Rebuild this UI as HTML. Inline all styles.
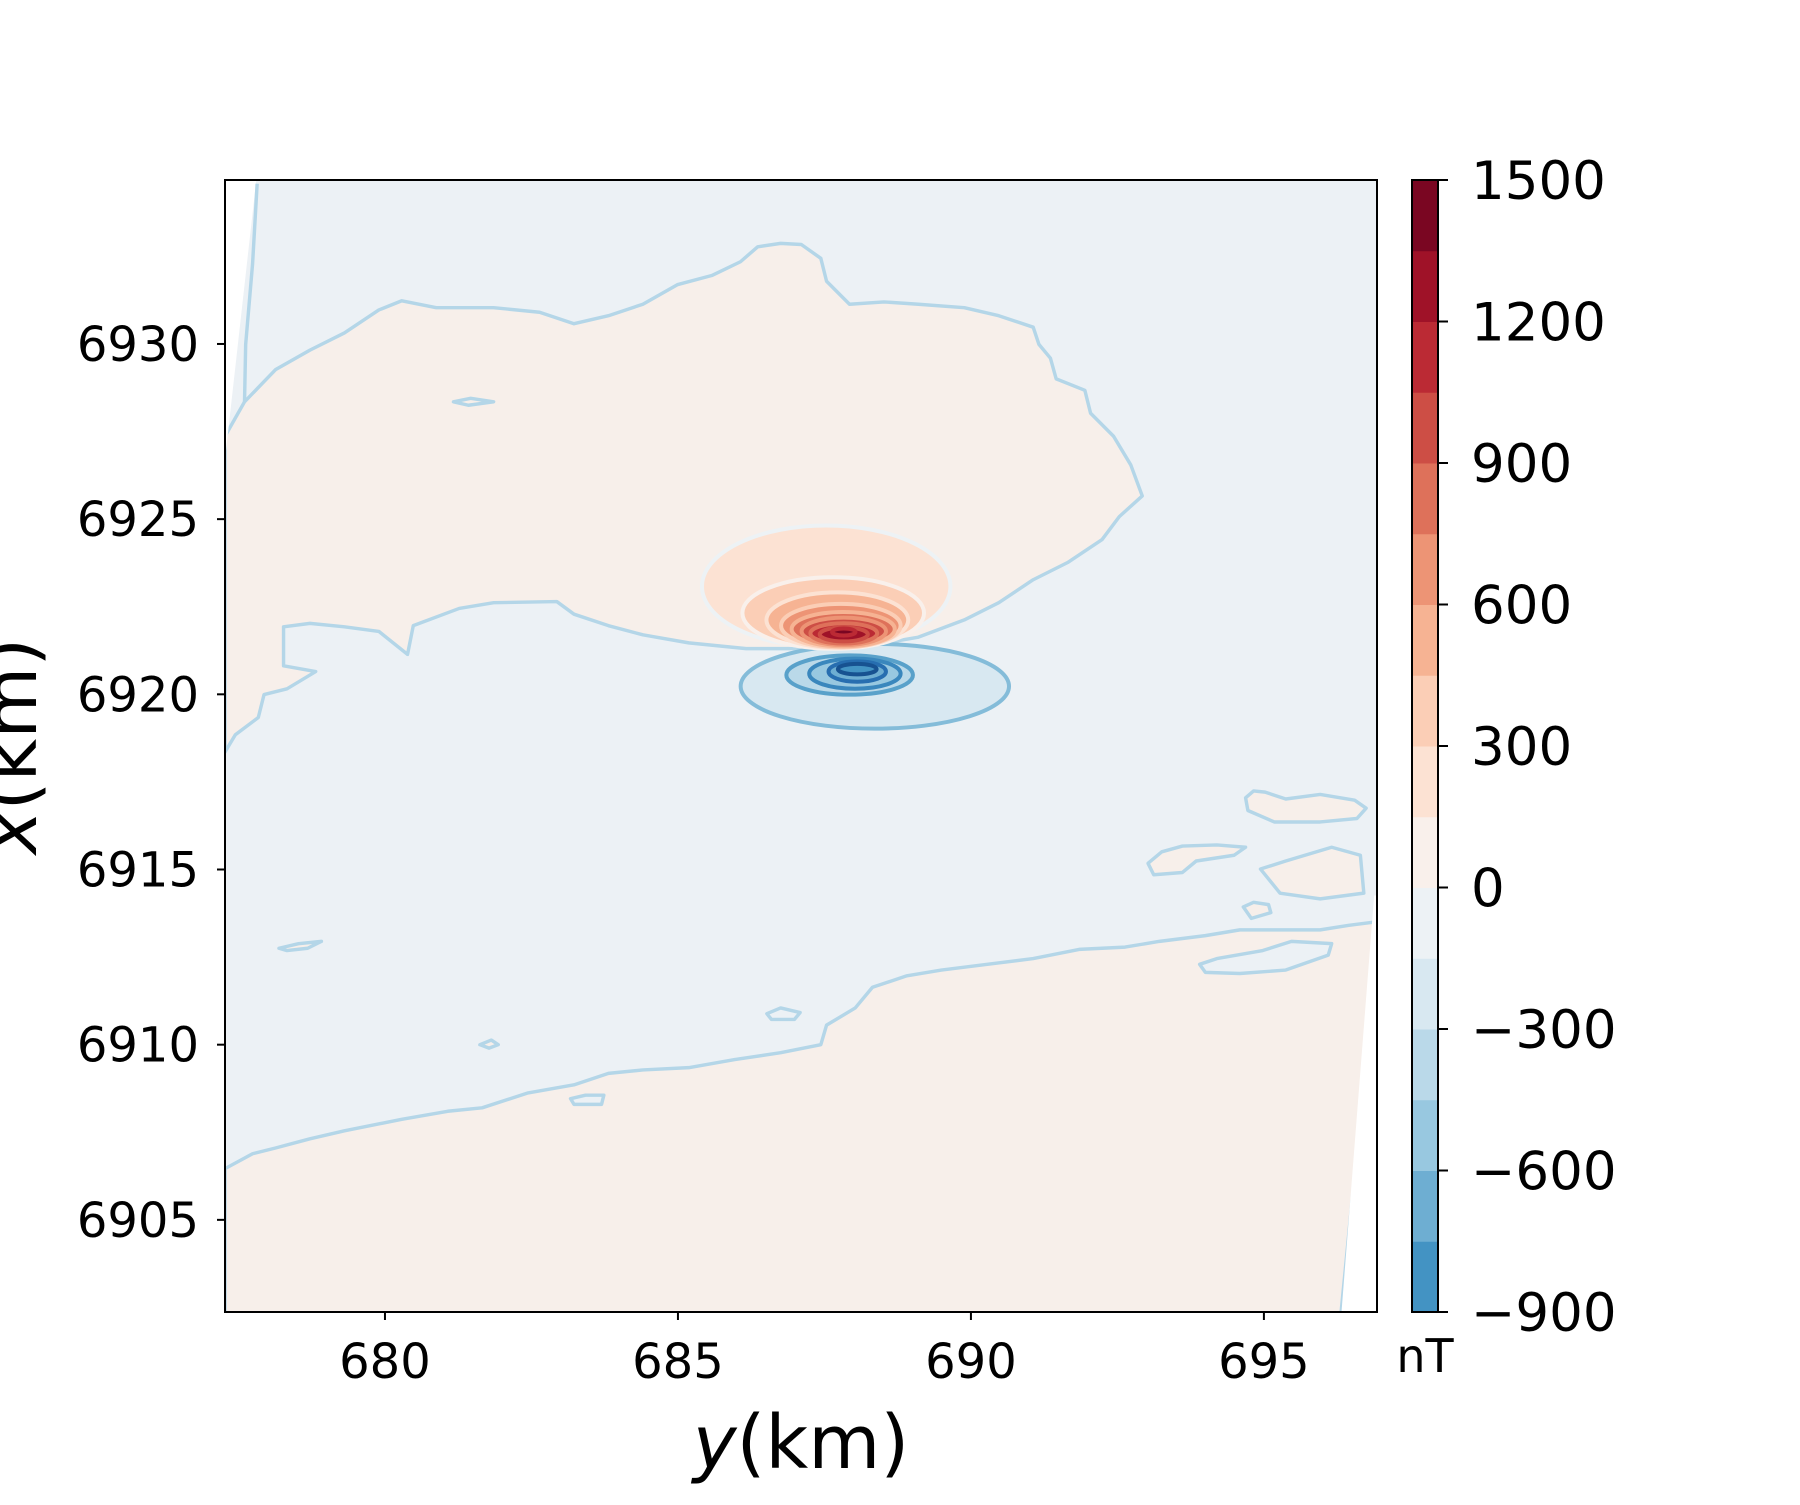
<!DOCTYPE html>
<html><head><meta charset="utf-8"><style>
html,body{margin:0;padding:0;background:#fff;}
svg text{font-family:"DejaVu Sans","Liberation Sans",sans-serif;fill:#000;}
</style></head><body>
<svg id="chart" width="1800" height="1500" viewBox="0 0 1800 1500" xmlns="http://www.w3.org/2000/svg">
<defs><clipPath id="axclip"><rect x="225" y="180" width="1152" height="1132"/></clipPath></defs>
<g id="plot" clip-path="url(#axclip)">
  <rect x="225" y="180" width="1152" height="1132" fill="#ecf1f5"/>
  <g transform="scale(1.148)" stroke="#b4d6e8" stroke-width="3" stroke-linejoin="round">
    <polygon fill="#f7efea" points="196,380 213,350 240,322 270,305 300,290 330,270 350,262 380,268 430,268 470,272 500,282 530,275 560,265 590,248 620,240 645,228 660,215 680,212 698,213 715,225 720,245 740,265 770,263 800,265 840,268 870,275 900,285 905,300 915,312 920,330 945,340 950,360 970,380 985,405 995,432 975,450 960,470 930,490 900,505 870,525 840,540 800,555 760,562 700,565 650,565 600,560 560,553 530,545 500,535 485,524 430,525 400,530 360,545 355,570 330,550 300,546 270,543 247,546 247,580 275,585 250,600 230,605 225,625 205,640 196,655"/>
    <polygon fill="#f7efea" points="196,1018 220,1005 240,1000 270,992 300,985 350,975 390,968 420,965 460,952 500,945 530,935 560,932 600,930 640,923 680,917 715,910 720,893 745,878 760,860 790,850 820,845 860,840 900,835 940,827 980,825 1010,820 1050,815 1080,810 1110,810 1150,810 1175,806 1199,803 1199,830 1168,1145 196,1145"/>
    <polygon fill="#ffffff" stroke="none" points="190,150 224,150 196,400 190,400"/>
    <polyline fill="none" points="224,160 220,230 214,300 213,350"/>
    <polygon fill="#ffffff" stroke="none" points="1197,780 1210,780 1210,1150 1168,1150"/>
    <polygon fill="#f7efea" points="1085,695 1092,689 1102,690 1120,696 1150,692 1180,697 1190,704 1182,713 1150,716 1110,716 1087,706"/>
    <polygon fill="#f7efea" points="1000,752 1012,742 1030,737 1060,736 1085,738 1075,745 1042,750 1030,760 1005,762"/>
    <polygon fill="#f7efea" points="1098,757 1120,750 1160,738 1185,745 1188,778 1150,783 1115,778"/>
    <polygon fill="#f7efea" points="1083,790 1092,786 1105,788 1107,795 1090,800"/>
    <polygon fill="#ecf1f5" points="1045,840 1060,835 1100,828 1125,820 1160,822 1157,832 1120,845 1080,848 1050,847"/>
    <polygon fill="#ecf1f5" points="668,883 680,878 697,882 692,888 672,888"/>
    <polygon fill="#ecf1f5" points="497,957 510,954 526,954 524,962 500,962"/>
    <polygon fill="#f7efea" points="395,350 410,347 430,350 408,353"/>
    <polygon fill="#f7efea" points="243,826 260,822 280,820 268,826 250,828"/>
    <polygon fill="#f7efea" points="418,910 428,906 434,910 426,913"/>
  </g>
  <g id="anomaly"></g>
</g>
<rect x="225" y="180" width="1152" height="1132" fill="none" stroke="#000" stroke-width="2"/>
<g id="xticks"></g>
<g id="yticks"></g>
<text x="801" y="1468" font-size="74" text-anchor="middle"><tspan font-style="italic">y</tspan>(km)</text>
<text transform="translate(36,746) rotate(-90)" font-size="74" text-anchor="middle"><tspan font-style="italic">x</tspan>(km)</text>
<g id="colorbar"></g>
<text x="1425" y="1372" font-size="46" text-anchor="middle">nT</text>
</svg>
<script>
const xTicks=[680,685,690,695];
const yTicks=[6905,6910,6915,6920,6925,6930];
const cbLevels=[-900,-750,-600,-450,-300,-150,0,150,300,450,600,750,900,1050,1200,1350,1500];
const cbTicks=[-900,-600,-300,0,300,600,900,1200,1500];
const posLevels=[150,300,450,600,750,900,1050,1200,1350];
const posCx=[687.53,687.65,687.72,687.78,687.82,687.83,687.83,687.83,687.83];
const posCy=[6923.08,6922.32,6922.12,6921.96,6921.86,6921.80,6921.74,6921.71,6921.78];
const posRx=[2.12,1.55,1.21,1.02,0.88,0.72,0.57,0.41,0.2];
const posRy=[1.74,1.02,0.79,0.62,0.49,0.39,0.29,0.2,0.1];
const negLevels=[-150,-300,-450,-600,-750];
const negCx=[688.36,687.93,688.02,688.06,688.06];
const negCy=[6920.23,6920.55,6920.59,6920.65,6920.72];
const negRx=[2.29,1.08,0.78,0.49,0.33];
const negRy=[1.21,0.56,0.43,0.29,0.15];

const X0=677.27,X1=696.93,Y0=6902.37,Y1=6934.68;
const AL=225,AR=1377,AT=180,AB=1312;
function sx(v){return AL+(v-X0)/(X1-X0)*(AR-AL);}
function sy(v){return AB-(v-Y0)/(Y1-Y0)*(AB-AT);}
const anchors=['#053061','#2166ac','#4393c3','#92c5de','#d1e5f0','#f7f7f7','#fddbc7','#f4a582','#d6604d','#b2182b','#67001f'];
function hex(h){return [1,3,5].map(i=>parseInt(h.substr(i,2),16));}
function cmap(v){let t=0.5+v/(v<0?2750:3000);t=Math.max(0,Math.min(1,t));let p=t*10,i=Math.min(9,Math.floor(p)),f=p-i;
 const a=hex(anchors[i]),b=hex(anchors[i+1]);return 'rgb('+a.map((c,k)=>Math.round(c+(b[k]-c)*f)).join(',')+')';}
const NS='http://www.w3.org/2000/svg';
function mk(tag,attrs,parent){const e=document.createElementNS(NS,tag);for(const k in attrs)e.setAttribute(k,attrs[k]);parent.appendChild(e);return e;}

const an=document.getElementById('anomaly');
negLevels.forEach((L,i)=>{
 const e=mk('ellipse',{cx:sx(negCx[i]),cy:sy(negCy[i]),rx:negRx[i]*(AR-AL)/(X1-X0),ry:negRy[i]*(AB-AT)/(Y1-Y0),fill:cmap(L-75),stroke:cmap(L-450),'stroke-width':4},an);
 
 
});
posLevels.forEach((L,i)=>{
 const e=mk('ellipse',{cx:sx(posCx[i]),cy:sy(posCy[i]),rx:posRx[i]*(AR-AL)/(X1-X0),ry:posRy[i]*(AB-AT)/(Y1-Y0),fill:cmap(L+75),stroke:cmap(L-225),'stroke-width':4},an);
 
 
});

const xt=document.getElementById('xticks');
xTicks.forEach(v=>{
 const l=mk('line',{x1:sx(v),x2:sx(v),y1:AB,y2:AB+8,stroke:'#000','stroke-width':2},xt);
 
 
 const t=mk('text',{x:sx(v),y:AB+66,'font-size':48,'text-anchor':'middle'},xt);
 t.textContent=v;
 
 
});
const yt=document.getElementById('yticks');
yTicks.forEach(v=>{
 const l=mk('line',{x1:AL-8,x2:AL,y1:sy(v),y2:sy(v),stroke:'#000','stroke-width':2},yt);
 
 
 const t=mk('text',{x:AL-26,y:sy(v)+17,'font-size':48,'text-anchor':'end'},yt);
 t.textContent=v;
 
 
});

const cb=document.getElementById('colorbar');
const CL=1412,CR=1438,CT=180,CB=1312;
function cy(v){return CB-(v-cbLevels[0])/(cbLevels[cbLevels.length-1]-cbLevels[0])*(CB-CT);}
for(let i=0;i<cbLevels.length-1;i++){
 const r=mk('rect',{x:CL,y:cy(cbLevels[i+1]),width:CR-CL,height:cy(cbLevels[i])-cy(cbLevels[i+1])+0.5,fill:cmap((cbLevels[i]+cbLevels[i+1])/2)},cb);
 
 
}
const fr=mk('rect',{x:CL,y:CT,width:CR-CL,height:CB-CT,fill:'none',stroke:'#000','stroke-width':2},cb);


cbTicks.forEach(v=>{
 const l=mk('line',{x1:CR,x2:CR+10,y1:cy(v),y2:cy(v),stroke:'#000','stroke-width':2},cb);
 
 
 const t=mk('text',{x:CR+33,y:cy(v)+19,'font-size':53},cb);
 t.textContent=v<0?'\u2212'+Math.abs(v):String(v);
 
 
});
</script>
</body></html>
